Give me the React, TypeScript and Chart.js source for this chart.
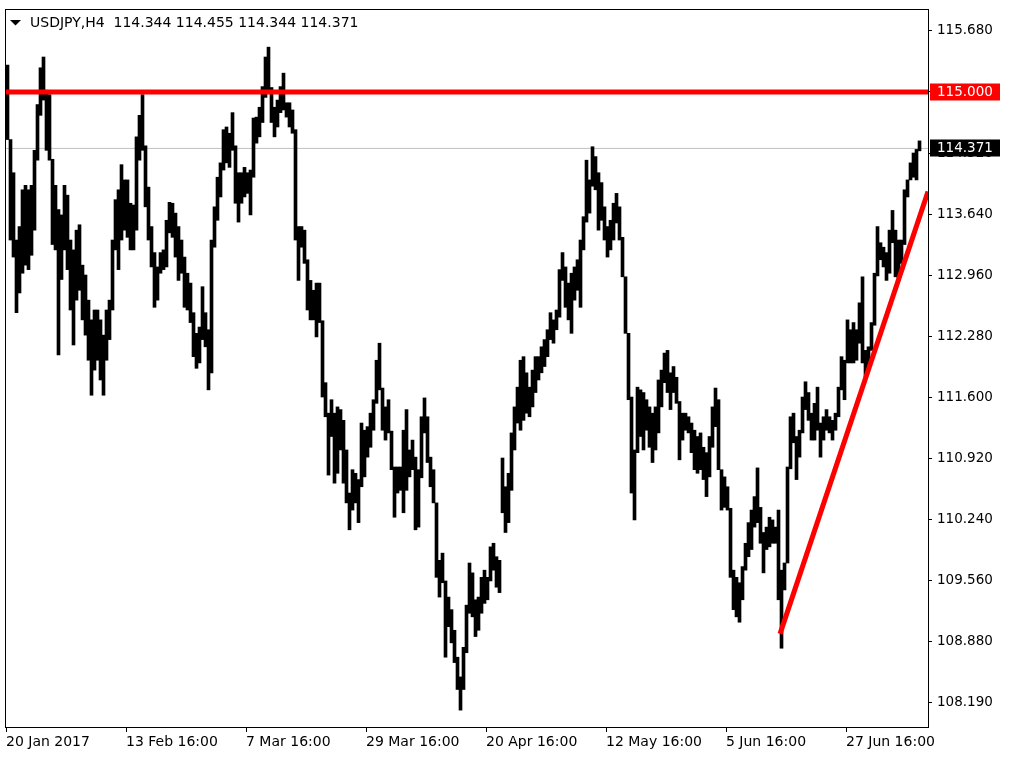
import React, { useEffect, useRef } from "react";
import { Chart, registerables } from "chart.js";

Chart.register(...registerables);

const titleText = "USDJPY,H4  114.344 114.455 114.344 114.371";

const barHighs = [
  115.30, 114.47, 114.10, 113.35, 113.50, 113.91, 113.96, 113.91, 113.96, 114.35,
  114.86, 115.27, 115.39, 115.02, 114.97, 114.25, 113.96, 113.69, 113.63, 113.96,
  113.85, 113.35, 113.24, 113.46, 113.52, 113.07, 112.96, 112.68, 112.46, 112.57,
  112.57, 112.46, 112.29, 112.57, 112.68, 113.35, 113.80, 113.91, 114.19, 114.02,
  114.02, 113.76, 113.74, 114.50, 114.74, 114.97, 114.40, 113.94, 113.50, 113.21,
  113.05, 113.21, 113.24, 113.57, 113.77, 113.76, 113.65, 113.50, 113.35, 113.16,
  112.98, 112.87, 112.54, 112.31, 112.38, 112.83, 112.54, 112.35, 113.35, 113.72,
  114.05, 114.21, 114.58, 114.61, 114.54, 114.77, 114.40, 114.10, 114.10, 114.16,
  114.10, 114.13, 114.71, 114.72, 114.83, 115.06, 115.39, 115.50, 115.05, 114.83,
  114.91, 115.06, 115.21, 114.88, 114.88, 114.80, 114.58, 113.50, 113.50, 113.46,
  113.13, 112.90, 112.79, 112.87, 112.87, 112.45, 111.76, 111.42, 111.57, 111.42,
  111.49, 111.46, 111.34, 111.01, 110.53, 110.79, 110.75, 110.68, 111.31, 111.23,
  111.27, 111.42, 111.57, 112.01, 112.20, 111.70, 111.49, 111.57, 111.22, 110.82,
  110.82, 110.82, 111.23, 111.46, 111.01, 111.12, 110.93, 110.79, 111.38, 111.59,
  111.38, 110.93, 110.79, 110.42, 109.78, 109.86, 109.55, 109.37, 109.23, 109.00,
  108.70, 108.48, 108.81, 109.28, 109.75, 109.64, 109.34, 109.37, 109.59, 109.67,
  109.59, 109.93, 109.97, 109.82, 109.78, 110.92, 110.60, 110.75, 111.20, 111.49,
  111.71, 112.01, 112.05, 111.87, 111.71, 111.90, 112.05, 112.05, 112.16, 112.24,
  112.35, 112.54, 112.46, 112.57, 113.02, 113.21, 113.05, 112.87, 112.98, 113.05,
  113.13, 113.35, 113.61, 114.24, 114.02, 114.39, 114.28, 114.10, 113.99, 113.72,
  113.50, 113.57, 113.76, 113.87, 113.72, 113.38, 112.94, 112.31, 111.60, 111.01,
  111.71, 111.68, 111.65, 111.57, 111.49, 111.42, 111.49, 111.79, 111.90, 112.09,
  112.12, 111.87, 111.94, 111.82, 111.55, 111.42, 111.42, 111.38, 111.31, 111.23,
  111.16, 111.20, 111.04, 110.98, 111.16, 111.49, 111.70, 111.57, 110.79, 110.71,
  110.60, 110.36, 109.67, 109.59, 109.53, 109.71, 109.97, 110.20, 110.34, 110.49,
  110.81, 110.37, 110.09, 110.15, 110.26, 110.23, 110.15, 110.34, 109.67, 109.75,
  110.82, 111.38, 111.42, 111.16, 111.23, 111.60, 111.77, 111.65, 111.42, 111.53,
  111.71, 111.31, 111.38, 111.46, 111.38, 111.34, 111.42, 111.71, 112.05, 112.01,
  112.46, 112.35, 112.43, 112.35, 112.65, 112.94, 112.12, 112.16, 112.43, 112.98,
  113.50, 113.32, 113.27, 113.21, 113.46, 113.68, 113.46, 113.35, 113.35, 113.91,
  114.02, 114.21, 114.32, 114.36, 114.455,
];

const barLows = [
  114.47, 113.35, 113.16, 112.54, 112.76, 112.98, 113.07, 113.02, 113.18, 113.46,
  114.24, 114.74, 114.91, 114.35, 114.24, 113.30, 113.24, 112.07, 112.91, 113.24,
  113.02, 112.57, 112.18, 112.68, 112.79, 112.46, 112.29, 112.01, 111.62, 111.90,
  112.01, 111.79, 111.62, 112.01, 112.24, 112.57, 113.24, 113.02, 113.35, 113.46,
  113.38, 113.24, 113.24, 113.46, 114.24, 114.35, 113.72, 113.35, 113.05, 112.60,
  112.68, 112.98, 113.02, 113.05, 113.43, 113.38, 113.16, 112.90, 112.98, 112.60,
  112.57, 112.43, 112.05, 111.92, 111.98, 112.24, 112.16, 111.68, 111.87, 113.27,
  113.57, 113.83, 114.13, 114.21, 114.16, 114.35, 113.76, 113.55, 113.76, 113.83,
  113.87, 113.63, 114.05, 114.43, 114.50, 114.66, 114.94, 114.99, 114.66, 114.50,
  114.61, 114.77, 114.80, 114.72, 114.61, 114.54, 113.35, 112.90, 113.27, 113.09,
  112.57, 112.46, 112.46, 112.27, 112.43, 111.60, 111.38, 110.73, 111.16, 110.64,
  110.75, 111.01, 110.64, 110.42, 110.12, 110.34, 110.42, 110.20, 110.60, 110.71,
  110.93, 111.04, 111.23, 111.53, 111.68, 111.23, 111.12, 111.20, 110.79, 110.26,
  110.53, 110.56, 110.31, 110.56, 110.71, 110.79, 110.12, 110.15, 110.70, 111.20,
  110.87, 110.60, 110.42, 109.59, 109.37, 109.53, 108.70, 109.04, 108.86, 108.64,
  108.34, 108.11, 108.34, 108.75, 109.19, 109.15, 108.93, 109.00, 109.19, 109.30,
  109.34, 109.55, 109.67, 109.48, 109.42, 110.31, 110.09, 110.20, 110.56, 111.01,
  111.31, 111.23, 111.34, 111.42, 111.38, 111.49, 111.65, 111.79, 111.87, 111.94,
  112.05, 112.24, 112.20, 112.35, 112.49, 112.90, 112.60, 112.46, 112.31, 112.68,
  112.79, 112.60, 113.24, 113.55, 113.65, 113.95, 113.91, 113.46, 113.57, 113.35,
  113.16, 113.24, 113.35, 113.54, 113.35, 112.94, 112.31, 111.57, 110.53, 110.23,
  110.98, 111.16, 111.01, 111.23, 111.04, 110.87, 111.01, 111.20, 111.49, 111.76,
  111.65, 111.46, 111.65, 111.53, 110.90, 111.12, 111.23, 111.20, 110.98, 110.79,
  110.75, 110.79, 110.68, 110.49, 110.71, 111.04, 111.27, 110.79, 110.34, 110.37,
  110.34, 109.59, 109.23, 109.15, 109.09, 109.34, 109.67, 109.82, 109.90, 110.15,
  110.20, 109.97, 109.64, 109.90, 109.93, 109.97, 109.97, 109.34, 108.80, 109.45,
  109.75, 110.80, 111.09, 110.68, 110.93, 111.20, 111.46, 111.34, 111.12, 111.12,
  111.23, 110.93, 111.12, 111.23, 111.20, 111.12, 111.23, 111.38, 111.68, 111.57,
  111.98, 111.98, 111.98, 112.01, 112.20, 111.98, 111.82, 111.90, 112.12, 112.40,
  112.95, 113.13, 113.05, 112.90, 112.98, 113.32, 112.94, 112.90, 113.09, 113.30,
  113.83, 114.02, 114.05, 114.02, 114.344,
];

const timeTickIndex = [-0.5, 39.5, 79.5, 119.5, 159.5, 199.5, 239.5, 279.5];
const timeTickLabels = [
  "20 Jan 2017",
  "13 Feb 16:00",
  "7 Mar 16:00",
  "29 Mar 16:00",
  "20 Apr 16:00",
  "12 May 16:00",
  "5 Jun 16:00",
  "27 Jun 16:00",
];
const priceTicks = [115.68, 115.0, 114.32, 113.64, 112.96, 112.28, 111.6, 110.92, 110.24, 109.56, 108.88, 108.19];
const indexRange = [-0.5, 306.83];
const priceRange = [107.922, 115.914];
const resistancePrice = [115.0];
const lastPrice = [114.371];
const trendIndex = [257.5, 306.83];
const trendPrice = [108.96, 113.89];

const FONT = '"DejaVu Sans", "Noto Sans", sans-serif';
const AXIS_FONT_SIZE = 13.5;
const TIME_FONT_SIZE = 14;

export default function App() {
  const ref = useRef<HTMLCanvasElement>(null);

  useEffect(() => {
    document.body.style.margin = "0";
    const canvas = ref.current;
    if (!canvas) return;

    const drawPriceBox = (chart: any, price: number, bg: string) => {
      const { ctx, chartArea, scales } = chart;
      const y = scales.y.getPixelForValue(price);
      ctx.save();
      ctx.fillStyle = bg;
      ctx.fillRect(chartArea.right + 2, Math.round(y) - 8.5, 70, 17);
      ctx.fillStyle = "#ffffff";
      ctx.font = `${AXIS_FONT_SIZE}px ${FONT}`;
      ctx.textBaseline = "middle";
      ctx.textAlign = "left";
      ctx.fillText(price.toFixed(3), chartArea.right + 9, y + 0.5);
      ctx.restore();
    };

    const overlay = {
      id: "mt4Overlay",
      afterDraw(chart: any) {
        const { ctx, chartArea: a } = chart;
        ctx.save();
        ctx.strokeStyle = "#000000";
        ctx.lineWidth = 1;
        ctx.strokeRect(a.left - 0.5, a.top - 0.5, a.right - a.left + 1, a.bottom - a.top + 1);
        ctx.fillStyle = "#000000";
        ctx.beginPath();
        ctx.moveTo(a.left + 4, a.top + 10);
        ctx.lineTo(a.left + 15, a.top + 10);
        ctx.lineTo(a.left + 9.5, a.top + 15.5);
        ctx.closePath();
        ctx.fill();
        ctx.font = `${TIME_FONT_SIZE}px ${FONT}`;
        ctx.textBaseline = "middle";
        ctx.textAlign = "left";
        ctx.fillText(titleText, a.left + 24, a.top + 13);
        ctx.restore();
        drawPriceBox(chart, resistancePrice[0], "#ff0000");
        drawPriceBox(chart, lastPrice[0], "#000000");
      },
    };

    const chart = new Chart(canvas, {
      type: "bar",
      data: {
        datasets: [
          {
            type: "line",
            data: indexRange.map((x) => ({ x, y: lastPrice[0] })),
            borderColor: "#c0c0c0",
            borderWidth: 1,
            pointRadius: 0,
            fill: false,
            order: 3,
          } as any,
          {
            type: "bar",
            data: barLows.map((lo, i) => ({ x: i, y: [lo, barHighs[i]] })),
            backgroundColor: "#000000",
            borderWidth: 0,
            barThickness: 3,
            minBarLength: 1,
            order: 2,
          } as any,
          {
            type: "line",
            data: indexRange.map((x) => ({ x, y: resistancePrice[0] })),
            borderColor: "#ff0000",
            borderWidth: 5,
            pointRadius: 0,
            fill: false,
            order: 1,
          } as any,
          {
            type: "line",
            data: trendIndex.map((x, i) => ({ x, y: trendPrice[i] })),
            borderColor: "#ff0000",
            borderWidth: 5,
            pointRadius: 0,
            fill: false,
            order: 0,
          } as any,
        ],
      },
      options: {
        responsive: false,
        animation: false,
        devicePixelRatio: 1,
        events: [],
        layout: { padding: { left: 6, top: 10, right: 0, bottom: 0 } },
        plugins: {
          legend: { display: false },
          tooltip: { enabled: false },
          title: { display: false },
        },
        scales: {
          x: {
            type: "linear",
            min: indexRange[0],
            max: indexRange[1],
            offset: false,
            bounds: "data",
            grid: {
              display: true,
              drawOnChartArea: false,
              drawTicks: true,
              tickLength: 5,
              color: "#000000",
              offset: false,
            },
            border: { display: true, color: "#000000" },
            ticks: {
              autoSkip: false,
              maxRotation: 0,
              minRotation: 0,
              align: "start",
              padding: 2,
              color: "#000000",
              font: { family: FONT, size: TIME_FONT_SIZE },
              callback: (_v: any, i: number) => timeTickLabels[i] ?? "",
            },
            afterBuildTicks: (axis: any) => {
              axis.ticks = timeTickIndex.map((value) => ({ value }));
            },
            afterFit: (axis: any) => {
              axis.height = 43;
              axis.paddingLeft = 0;
              axis.paddingRight = 0;
            },
          },
          y: {
            type: "linear",
            position: "right",
            min: priceRange[0],
            max: priceRange[1],
            bounds: "data",
            grid: {
              display: true,
              drawOnChartArea: false,
              drawTicks: true,
              tickLength: 4,
              color: "#000000",
            },
            border: { display: true, color: "#000000" },
            ticks: {
              padding: 5,
              color: "#000000",
              font: { family: FONT, size: AXIS_FONT_SIZE },
              callback: (v: any) => Number(v).toFixed(3),
            },
            afterBuildTicks: (axis: any) => {
              axis.ticks = priceTicks.map((value) => ({ value }));
            },
            afterFit: (axis: any) => {
              axis.width = 82;
              axis.paddingTop = 0;
              axis.paddingBottom = 0;
            },
          },
        },
      } as any,
      plugins: [overlay],
    });

    return () => chart.destroy();
  }, []);

  return (
    <div style={{ width: 1010, height: 770, background: "#ffffff", position: "relative" }}>
      <canvas ref={ref} width={1010} height={770} style={{ display: "block", width: 1010, height: 770 }} />
    </div>
  );
}
